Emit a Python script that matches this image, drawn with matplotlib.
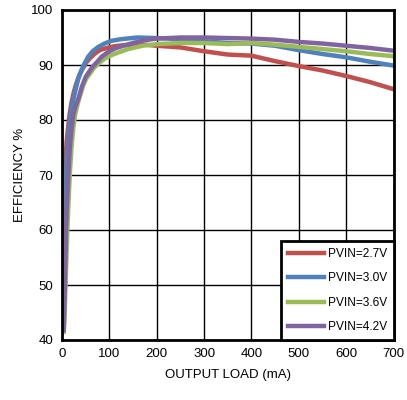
import matplotlib
matplotlib.use("Agg")
import matplotlib.pyplot as plt

plt.rcParams['font.family'] = ['Liberation Sans', 'DejaVu Sans']

# load current (mA) and efficiency (%) per input voltage
load_27 = [0.7, 2, 4, 6, 8, 10, 13, 16, 20, 25, 30, 37, 45, 52, 60, 70, 80, 95, 110, 130, 150,
           175, 200, 250, 300, 350, 400, 450, 500, 550, 600, 650, 700]
eff_27 = [53, 60, 66, 70, 73, 76, 78.5, 80.8, 83, 85, 86.5, 88.2, 89.5, 90.5, 91.3, 92.1, 92.7,
          93.1, 93.4, 93.6, 93.7, 93.7, 93.5, 93.2, 92.5, 91.9, 91.7, 90.7, 89.8, 89.0, 88.0, 86.9, 85.6]

load_30 = [0.7, 2, 4, 6, 8.5, 11, 13.5, 17, 22, 27.5, 34, 41.5, 48, 55.5, 65, 77, 90, 105, 125,
           160, 200, 250, 300, 350, 400, 450, 500, 550, 600, 650, 700]
eff_30 = [51, 56, 61, 65.5, 69.5, 73, 76, 79.8, 82.8, 85, 87.3, 89.1, 90.3, 91.5, 92.5, 93.3,
          93.9, 94.4, 94.7, 95.0, 94.9, 94.7, 94.3, 94.0, 93.9, 93.5, 92.7, 92.0, 91.4, 90.6, 89.9]

load_36 = [4, 5.5, 7, 8.5, 10, 12, 14.5, 17, 20.5, 24, 28, 33, 38, 45, 52, 59, 68, 78, 91, 105,
           120, 140, 170, 200, 250, 300, 350, 400, 450, 500, 550, 600, 650, 700]
eff_36 = [41.5, 44, 48, 52, 56, 61, 66, 70.5, 75.2, 78.5, 81, 82.8, 84.3, 86.3, 87.6, 88.4,
          89.5, 90.3, 91.2, 91.8, 92.3, 92.9, 93.5, 93.8, 94.0, 94.0, 93.8, 94.0, 93.7, 93.3,
          92.9, 92.5, 92.0, 91.6]

load_42 = [4, 5, 6.3, 7.5, 8.5, 10, 12, 14.5, 17, 20, 24, 28, 34.5, 42, 50, 56, 65, 75, 84, 100,
           115, 126, 150, 175, 200, 250, 300, 350, 400, 450, 500, 550, 600, 650, 700]
eff_42 = [41.8, 45, 49.7, 54.5, 59, 63, 67, 71.5, 75.2, 78.2, 80.9, 82.3, 83.8, 86, 87.8, 88.6,
          89.7, 90.6, 91.5, 92.5, 93.1, 93.4, 94.0, 94.5, 94.8, 95.0, 95.0, 94.9, 94.8, 94.6,
          94.2, 93.9, 93.5, 93.1, 92.6]

labels = ["PVIN=2.7V", "PVIN=3.0V", "PVIN=3.6V", "PVIN=4.2V"]
colors = ["#C0504D", "#4F81BD", "#9BBB59", "#8064A2"]

fig = plt.figure(figsize=(4.07, 4.00), dpi=100)
ax = fig.add_axes([0.152, 0.15, 0.815, 0.825])

series = [(load_27, eff_27), (load_30, eff_30), (load_36, eff_36), (load_42, eff_42)]
for (x, y), lab, c in zip(series, labels, colors):
    ax.plot(x, y, color=c, lw=3.2, label=lab, solid_joinstyle='round')

ax.set_xlim(0, 700)
ax.set_ylim(40, 100)
ax.set_xticks(range(0, 701, 100))
ax.set_yticks(range(40, 101, 10))
ax.grid(True, color='black', lw=1.0)
ax.tick_params(length=0, labelsize=9.5, pad=6)
for s in ax.spines.values():
    s.set_linewidth(2)

ax.set_xlabel("OUTPUT LOAD (mA)", fontsize=9.5, labelpad=6)
ax.set_ylabel("EFFICIENCY %", fontsize=9.5, labelpad=4)

leg = ax.legend(loc='lower right', fontsize=8.6, fancybox=False, framealpha=1,
                edgecolor='black', borderaxespad=0, handlelength=3.0,
                handletextpad=0.35, labelspacing=1.05, borderpad=0.55)
leg.get_frame().set_linewidth(2)

fig.savefig("out.png", dpi=100)
